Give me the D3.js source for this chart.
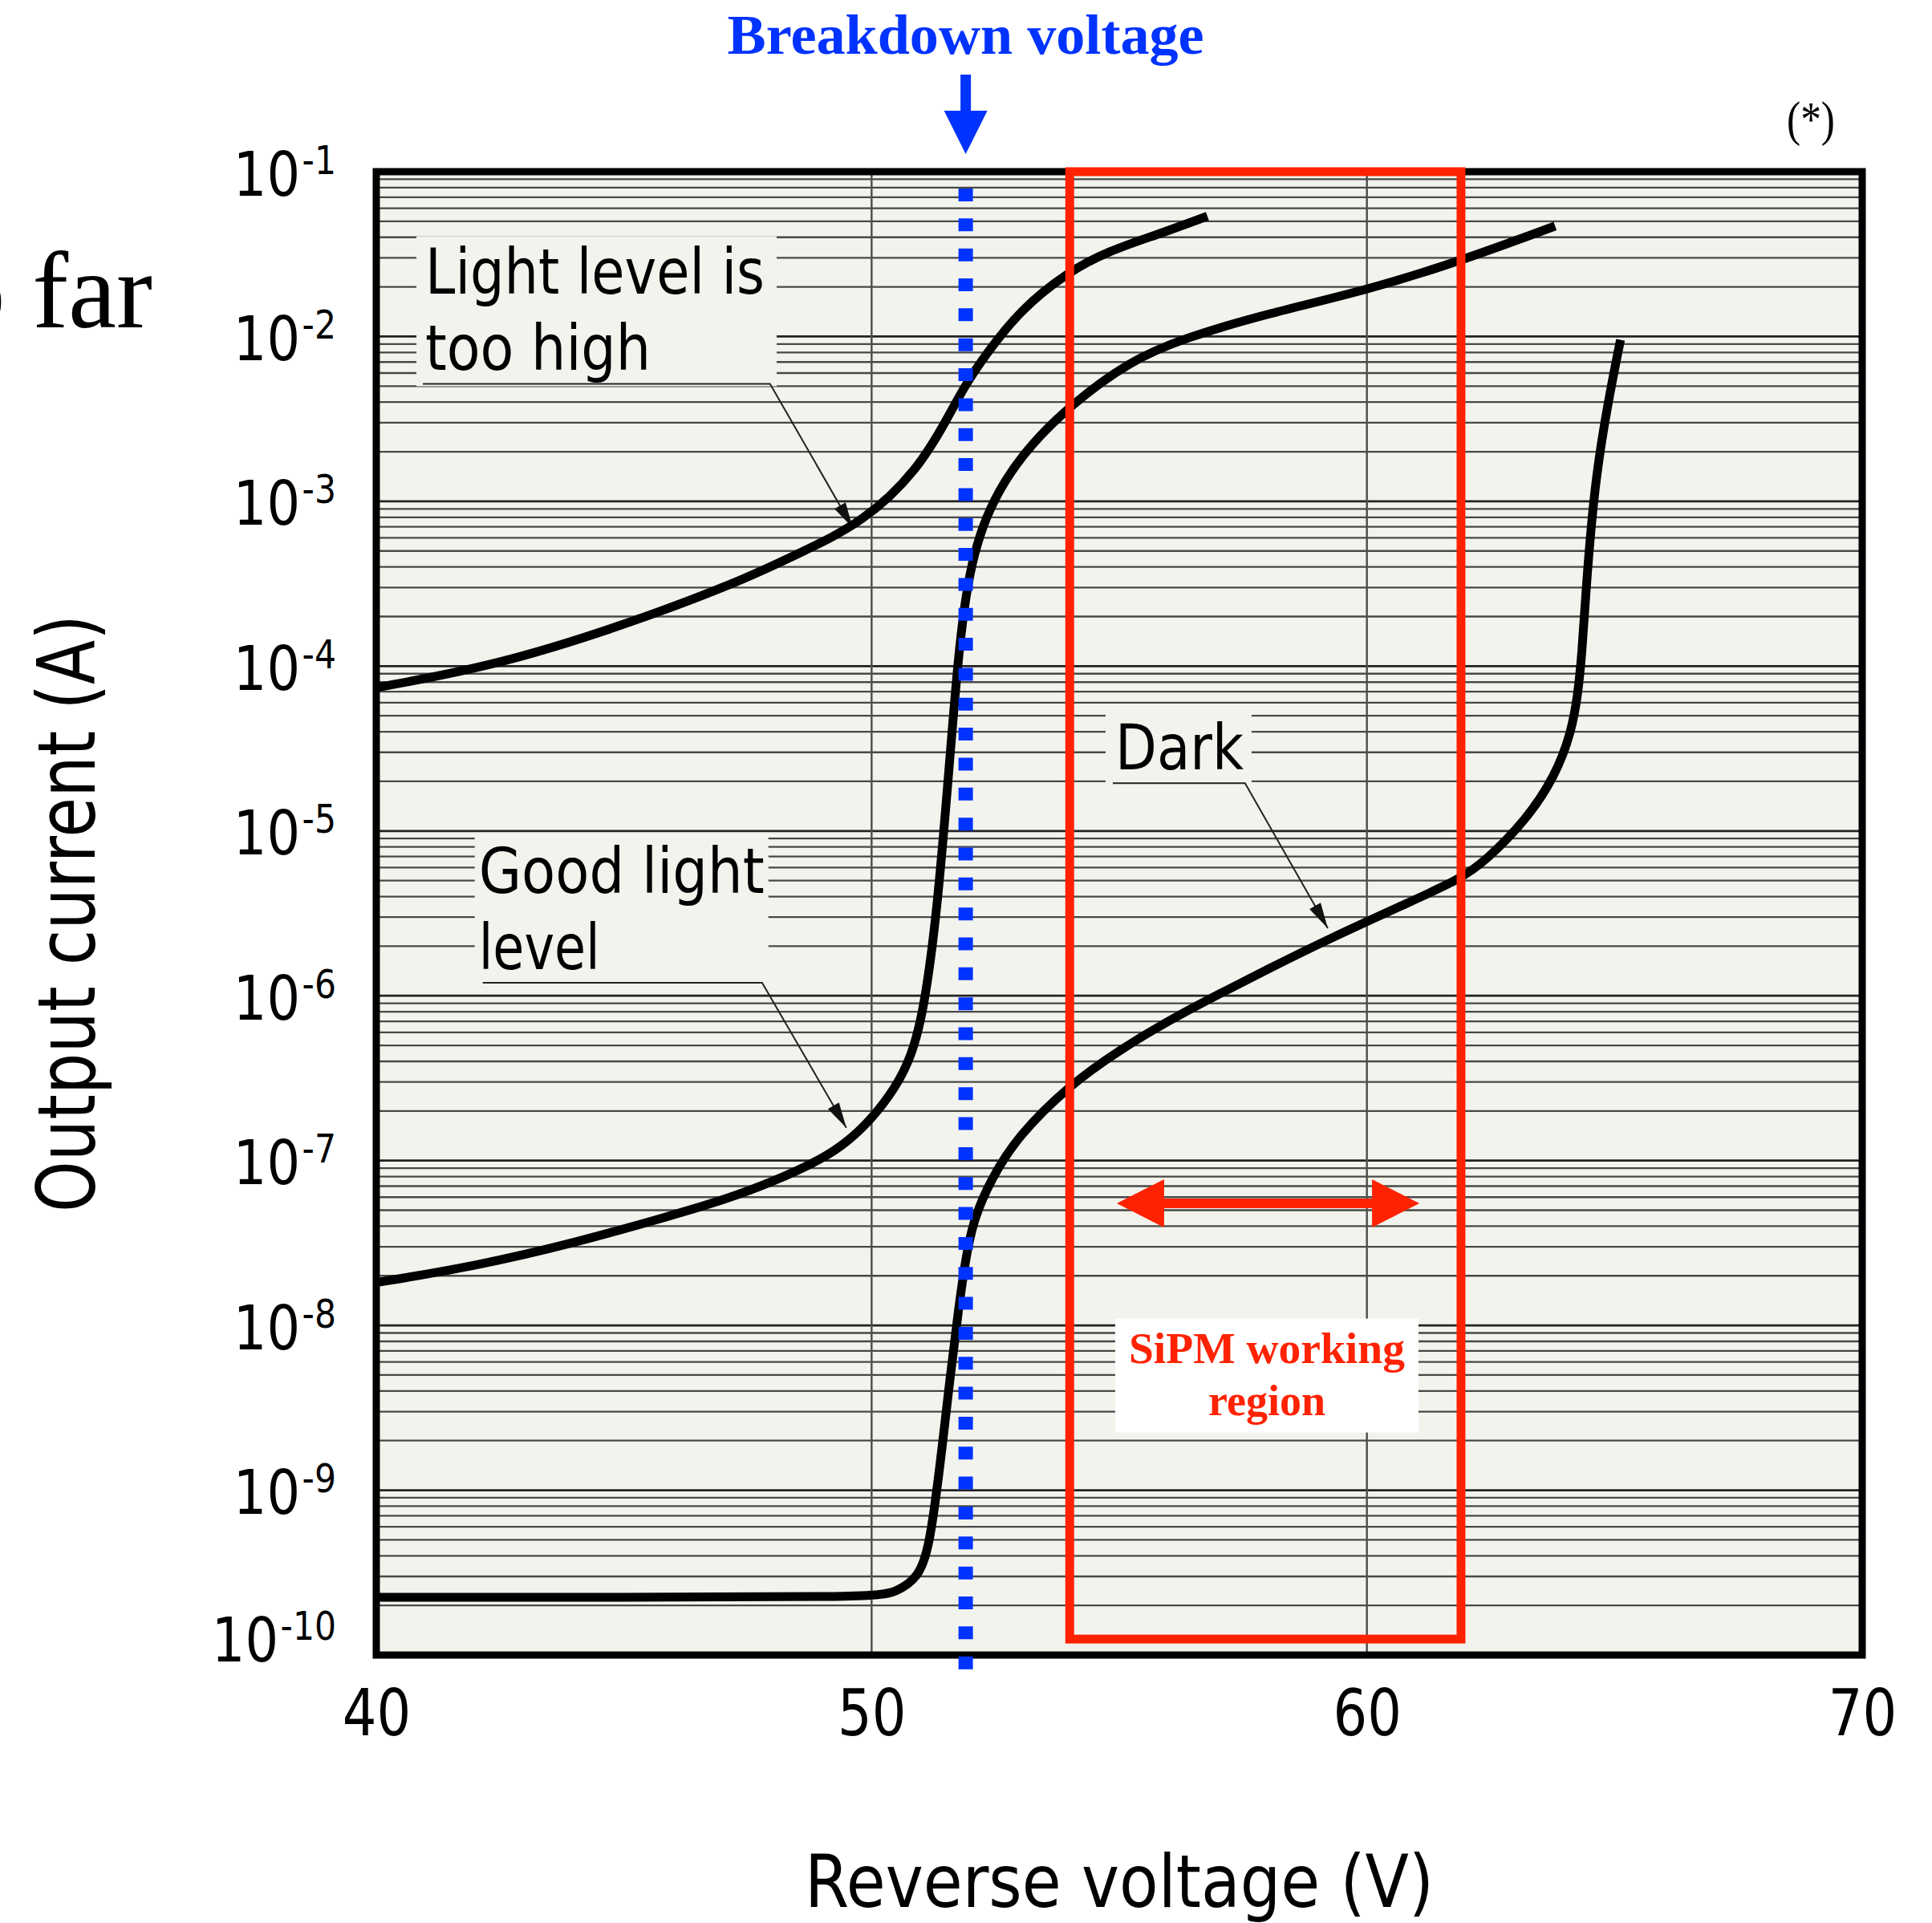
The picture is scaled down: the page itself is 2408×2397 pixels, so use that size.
<!DOCTYPE html>
<html>
<head>
<meta charset="utf-8">
<script src="https://cdn.jsdelivr.net/npm/d3@7"></script>
<style>
  html, body { margin: 0; padding: 0; background: #fff; }
  svg { display: block; }
</style>
</head>
<body>
<svg id="chart" width="2408" height="2397"></svg>
<script>
// ── data ────────────────────────────────────────────────────────────────
const xTicks = [40, 50, 60, 70];
const yDecades = [1e-1, 1e-2, 1e-3, 1e-4, 1e-5, 1e-6, 1e-7, 1e-8, 1e-9, 1e-10];
const yExponents = ['-1', '-2', '-3', '-4', '-5', '-6', '-7', '-8', '-9', '-10'];

// "Light level is too high"
const lightHighV = [40, 42.35, 44.84, 47.33, 48.57, 49.82, 50.94, 51.56, 51.88, 52.3, 53.0, 53.95, 54.79, 55.79, 56.78];
const lightHighI = [7.41e-5, 1.0e-4, 1.7e-4, 3.24e-4, 4.9e-4, 7.41e-4, 1.55e-3, 3.31e-3, 5.01e-3, 7.76e-3, 1.45e-2, 2.45e-2, 3.31e-2, 4.17e-2, 5.37e-2];

// "Good light level"
const goodLightV = [40, 42, 44, 46, 47, 48, 49, 49.5, 50.0, 50.5, 50.8, 51.05, 51.33, 51.59, 51.75, 51.91, 52.07, 52.3, 52.67, 53.2, 54.0, 55.2, 56.3, 58.0, 60.0, 61.9, 63.8];
const goodLightI = [1.82e-8, 2.29e-8, 3.16e-8, 4.68e-8, 5.75e-8, 7.41e-8, 1.02e-7, 1.29e-7, 1.78e-7, 2.82e-7, 4.27e-7, 7.94e-7, 3.31e-6, 3.02e-5, 1.15e-4, 2.82e-4, 4.79e-4, 7.94e-4, 1.32e-3, 2.19e-3, 3.8e-3, 7.08e-3, 9.77e-3, 1.38e-2, 1.91e-2, 2.88e-2, 4.68e-2];

// "Dark"
const darkV = [40, 45, 50.0, 50.5, 50.94, 51.16, 51.38, 51.59, 51.75, 51.91, 52.07, 52.4, 52.95, 54.0, 55.0, 56.0, 57.0, 58.0, 59.2, 60.8, 61.9, 62.4, 63.2, 63.8, 64.13, 64.26, 64.34, 64.42, 64.54, 64.67, 64.88, 65.12];
const darkI = [2.24e-10, 2.24e-10, 2.24e-10, 2.4e-10, 2.95e-10, 4.37e-10, 1.38e-9, 5.01e-9, 1.23e-8, 2.69e-8, 4.47e-8, 7.59e-8, 1.41e-7, 2.88e-7, 4.68e-7, 7.08e-7, 1.02e-6, 1.45e-6, 2.19e-6, 3.63e-6, 5.13e-6, 6.61e-6, 1.15e-5, 2.14e-5, 3.98e-5, 6.76e-5, 1.17e-4, 2.82e-4, 7.94e-4, 1.74e-3, 4.17e-3, 9.55e-3];

// callouts: text lines, underline start, elbow, arrow tip (data units)
const calloutLines = [['Light level is', 'too high'], ['Good light', 'level'], ['Dark']];
const calloutV = [40.94, 42.15, 54.87];
const calloutI = [5.16e-3, 1.2e-6, 1.95e-5];
const calloutElbowV = [47.95, 47.79, 57.54];
const calloutTipV = [49.62, 49.49, 59.21];
const calloutTipI = [6.9e-4, 1.58e-7, 2.57e-6];

// breakdown voltage and SiPM working region
const breakdownV = 51.9;
const regionV = [54, 61.9];
const regionI = [1.25e-10, 1e-1];
const regionArrowV = [54.95, 61.06];
const regionArrowI = 5.5e-8;
const regionLabelV = 57.98;
const regionLabelI = 1.1e-8;
const regionLabel = ['SiPM working', 'region'];

// ── layout ──────────────────────────────────────────────────────────────
const W = 2408, H = 2397;
const plot = { left: 469, right: 2321, top: 214, bottom: 2063 };
const BG = '#f3f3ee';
const RED = '#ff2200';
const BLUE = '#0033ff';
const SANS = '"DejaVu Sans", Verdana, sans-serif';
const SERIF = '"Liberation Serif", "Times New Roman", serif';

const svg = d3.select('#chart');
const x = d3.scaleLinear().domain([40, 70]).range([plot.left, plot.right]);
const y = d3.scaleLog().domain([1e-10, 1e-1]).range([plot.bottom, plot.top]);

svg.append('rect').attr('width', W).attr('height', H).attr('fill', '#fff');
svg.append('rect')
  .attr('x', plot.left).attr('y', plot.top)
  .attr('width', plot.right - plot.left).attr('height', plot.bottom - plot.top)
  .attr('fill', BG);

// horizontal log grid (1..9 per decade)
const isDecade = (v) => Math.abs(Math.log10(v) - Math.round(Math.log10(v))) < 1e-6;
svg.append('g')
  .selectAll('line')
  .data(y.ticks(20))
  .join('line')
  .attr('x1', plot.left).attr('x2', plot.right)
  .attr('y1', (d) => y(d)).attr('y2', (d) => y(d))
  .attr('stroke', (d) => (isDecade(d) ? '#222' : '#484846'))
  .attr('stroke-width', (d) => (isDecade(d) ? 2.8 : 2.3));

// vertical grid
svg.append('g')
  .selectAll('line')
  .data(xTicks.slice(1, -1))
  .join('line')
  .attr('x1', (d) => x(d)).attr('x2', (d) => x(d))
  .attr('y1', plot.top).attr('y2', plot.bottom)
  .attr('stroke', '#505050').attr('stroke-width', 2.5);

// ── callouts ────────────────────────────────────────────────────────────
const calloutTextDx = [3, -5, 3];
const calloutTextLen = [[423, 281], [356, 151], [160]];
const calloutBoxDx = [-8, -10, -9];
const calloutBoxW = [449, 366, 182];
const lineStep = 95;

function arrowHead(tx, ty, fx, fy, len, half) {
  const a = Math.atan2(ty - fy, tx - fx);
  const bx = tx - len * Math.cos(a), by = ty - len * Math.sin(a);
  const px = -Math.sin(a) * half, py = Math.cos(a) * half;
  return `M${tx},${ty}L${bx + px},${by + py}L${bx - px},${by - py}Z`;
}

calloutLines.forEach((lines, i) => {
  const ax = x(calloutV[i]), ay = y(calloutI[i]);
  const ex = x(calloutElbowV[i]);
  const tx = x(calloutTipV[i]), ty = y(calloutTipI[i]);
  const n = lines.length;
  const firstBase = ay - 17 - (n - 1) * lineStep;
  const g = svg.append('g');

  g.append('rect')
    .attr('x', ax + calloutBoxDx[i]).attr('y', firstBase - 72)
    .attr('width', calloutBoxW[i]).attr('height', ay + 3 - (firstBase - 72))
    .attr('fill', BG);

  lines.forEach((t, k) => {
    g.append('text')
      .attr('x', ax + calloutTextDx[i]).attr('y', firstBase + k * lineStep)
      .attr('font-family', SANS).attr('font-size', 78)
      .attr('textLength', calloutTextLen[i][k]).attr('lengthAdjust', 'spacingAndGlyphs')
      .attr('fill', '#000')
      .text(t);
  });

  g.append('path')
    .attr('d', `M${ax},${ay}L${ex},${ay}L${tx},${ty}`)
    .attr('fill', 'none').attr('stroke', '#222').attr('stroke-width', 2);
  g.append('path')
    .attr('d', arrowHead(tx, ty, ex, ay, 32, 8))
    .attr('fill', '#111');
});

// ── curves ──────────────────────────────────────────────────────────────
const line = d3.line()
  .x((d) => x(d[0]))
  .y((d) => y(d[1]))
  .curve(d3.curveBasis);

[[lightHighV, lightHighI], [goodLightV, goodLightI], [darkV, darkI]].forEach(([vs, is]) => {
  svg.append('path')
    .datum(d3.zip(vs, is))
    .attr('d', line)
    .attr('fill', 'none')
    .attr('stroke', '#000')
    .attr('stroke-width', 11)
    .attr('stroke-linejoin', 'round');
});

// ── frame ───────────────────────────────────────────────────────────────
svg.append('rect')
  .attr('x', plot.left).attr('y', plot.top)
  .attr('width', plot.right - plot.left).attr('height', plot.bottom - plot.top)
  .attr('fill', 'none').attr('stroke', '#000').attr('stroke-width', 9);

// ── SiPM working region ─────────────────────────────────────────────────
svg.append('rect')
  .attr('x', x(regionV[0])).attr('y', y(regionI[1]))
  .attr('width', x(regionV[1]) - x(regionV[0]))
  .attr('height', y(regionI[0]) - y(regionI[1]))
  .attr('fill', 'none').attr('stroke', RED).attr('stroke-width', 11);

const ax0 = x(regionArrowV[0]), ax1 = x(regionArrowV[1]), ayA = y(regionArrowI);
svg.append('line')
  .attr('x1', ax0 + 50).attr('x2', ax1 - 50)
  .attr('y1', ayA).attr('y2', ayA)
  .attr('stroke', RED).attr('stroke-width', 12);
svg.append('path').attr('d', arrowHead(ax0, ayA, ax1, ayA, 59, 30)).attr('fill', RED);
svg.append('path').attr('d', arrowHead(ax1, ayA, ax0, ayA, 59, 30)).attr('fill', RED);

const lx = x(regionLabelV), ly = y(regionLabelI);
svg.append('rect')
  .attr('x', lx - 189).attr('y', ly)
  .attr('width', 378).attr('height', 142)
  .attr('fill', '#fff');
svg.append('text')
  .attr('x', lx).attr('y', ly + 55)
  .attr('text-anchor', 'middle')
  .attr('font-family', SERIF).attr('font-weight', 'bold').attr('font-size', 54)
  .attr('textLength', 344).attr('lengthAdjust', 'spacingAndGlyphs')
  .attr('fill', RED)
  .text(regionLabel[0]);
svg.append('text')
  .attr('x', lx).attr('y', ly + 120)
  .attr('text-anchor', 'middle')
  .attr('font-family', SERIF).attr('font-weight', 'bold').attr('font-size', 54)
  .attr('textLength', 146).attr('lengthAdjust', 'spacingAndGlyphs')
  .attr('fill', RED)
  .text(regionLabel[1]);

// ── breakdown voltage ───────────────────────────────────────────────────
const bx = x(breakdownV);
svg.append('line')
  .attr('x1', bx).attr('x2', bx)
  .attr('y1', 235).attr('y2', 2082)
  .attr('stroke', BLUE).attr('stroke-width', 18)
  .attr('stroke-dasharray', '16 21.34');

svg.append('rect')
  .attr('x', bx - 6.5).attr('y', plot.top - 121)
  .attr('width', 13).attr('height', 48)
  .attr('fill', BLUE);
svg.append('path')
  .attr('d', `M${bx - 27},${plot.top - 76}L${bx + 27},${plot.top - 76}L${bx},${plot.top - 22}Z`)
  .attr('fill', BLUE);

svg.append('text')
  .attr('x', bx).attr('y', 67)
  .attr('text-anchor', 'middle')
  .attr('font-family', SERIF).attr('font-weight', 'bold').attr('font-size', 70)
  .attr('textLength', 594).attr('lengthAdjust', 'spacingAndGlyphs')
  .attr('fill', BLUE)
  .text('Breakdown voltage');

// ── axes ────────────────────────────────────────────────────────────────
svg.append('g')
  .attr('transform', `translate(0,${plot.bottom})`)
  .call(d3.axisBottom(x).tickValues(xTicks).tickSize(0).tickPadding(43).tickFormat(d3.format('d')))
  .call((g) => g.select('.domain').remove())
  .call((g) => g.selectAll('.tick text')
    .attr('font-family', SANS).attr('font-size', 80).attr('fill', '#000')
    .attr('transform', 'scale(0.84,1)'));

const yAxis = svg.append('g')
  .attr('transform', 'translate(419,0)')
  .call(d3.axisLeft(y).tickValues(yDecades).tickSize(0).tickFormat(() => ''))
  .call((g) => g.select('.domain').remove());

yAxis.selectAll('.tick text')
  .attr('x', 0).attr('dy', null)
  .attr('y', (d, i) => (i === yDecades.length - 1 ? 7 : 29))
  .attr('text-anchor', 'end')
  .attr('font-family', SANS).attr('fill', '#000')
  .attr('transform', 'scale(0.85,1)')
  .each(function (d, i) {
    const t = d3.select(this);
    t.append('tspan').attr('font-size', 77).text('10');
    t.append('tspan').attr('font-size', 50).attr('dx', 3).attr('dy', -27).text(yExponents[i]);
  });

svg.append('text')
  .attr('x', (plot.left + plot.right) / 2).attr('y', 2377)
  .attr('text-anchor', 'middle')
  .attr('font-family', SANS).attr('font-size', 90)
  .attr('textLength', 784).attr('lengthAdjust', 'spacingAndGlyphs')
  .attr('fill', '#000')
  .text('Reverse voltage (V)');

svg.append('text')
  .attr('transform', `translate(118,${(plot.top + plot.bottom) / 2}) rotate(-90)`)
  .attr('text-anchor', 'middle')
  .attr('font-family', SANS).attr('font-size', 100)
  .attr('textLength', 745).attr('lengthAdjust', 'spacingAndGlyphs')
  .attr('fill', '#000')
  .text('Output current (A)');

// ── stray slide text ────────────────────────────────────────────────────
svg.append('text')
  .attr('x', 2257).attr('y', 169)
  .attr('text-anchor', 'middle')
  .attr('font-family', SERIF).attr('font-size', 62)
  .attr('textLength', 60).attr('lengthAdjust', 'spacingAndGlyphs')
  .attr('fill', '#000')
  .text('(*)');

svg.append('text')
  .attr('x', 190).attr('y', 408)
  .attr('text-anchor', 'end')
  .attr('font-family', SERIF).attr('font-size', 135)
  .attr('fill', '#000')
  .text('so far');
</script>
</body>
</html>
